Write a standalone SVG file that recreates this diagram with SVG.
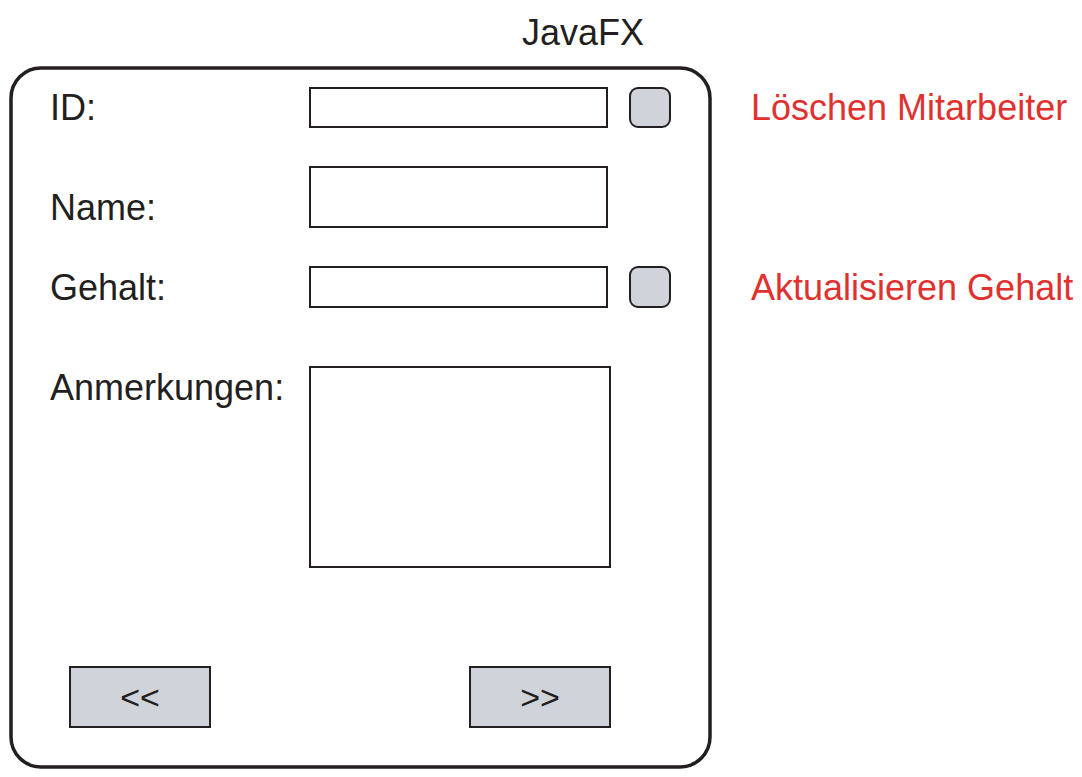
<svg xmlns="http://www.w3.org/2000/svg" width="1082" height="777" viewBox="0 0 1082 777">
<style>
.lbl{font-family:"Liberation Sans",Arial,sans-serif;font-size:36px;fill:#231f20}
.red{font-family:"Liberation Sans",Arial,sans-serif;font-size:36px;fill:#e1312f}
.btxt{font-family:"Liberation Sans",Arial,sans-serif;font-size:34px;fill:#231f20;text-anchor:middle}
.field{fill:#fff;stroke:#231f20;stroke-width:2}
.btn{fill:#d0d4da;stroke:#231f20;stroke-width:2}
</style>
<rect width="1082" height="777" fill="#fff"/>
<g id="title"><text class="lbl" x="522" y="45">JavaFX</text></g>
<g id="frame"><rect x="11" y="68" width="699" height="699" rx="30" fill="none" stroke="#231f20" stroke-width="3.5"/></g>
<g id="id-row">
<text class="lbl" x="50" y="120">ID:</text>
<rect class="field" x="310" y="88" width="297" height="39"/>
<rect class="btn" x="630" y="88" width="40" height="39" rx="8"/>
</g>
<g id="name-row">
<text class="lbl" x="50" y="220">Name:</text>
<rect class="field" x="310" y="167" width="297" height="60"/>
</g>
<g id="gehalt-row">
<text class="lbl" x="50" y="300">Gehalt:</text>
<rect class="field" x="310" y="267" width="297" height="40"/>
<rect class="btn" x="630" y="267" width="40" height="40" rx="8"/>
</g>
<g id="anmerkungen-row">
<text class="lbl" x="50" y="400">Anmerkungen:</text>
<rect class="field" x="310" y="367" width="300" height="200"/>
</g>
<g id="prev-btn">
<rect class="btn" x="70" y="667" width="140" height="60"/>
<text class="btxt" x="140" y="709">&lt;&lt;</text>
</g>
<g id="next-btn">
<rect class="btn" x="470" y="667" width="140" height="60"/>
<text class="btxt" x="540" y="709">&gt;&gt;</text>
</g>
<g id="annotations">
<text class="red" x="751" y="120">Löschen Mitarbeiter</text>
<text class="red" x="751" y="300">Aktualisieren Gehalt</text>
</g>
<g id="connectors"></g>
</svg>
